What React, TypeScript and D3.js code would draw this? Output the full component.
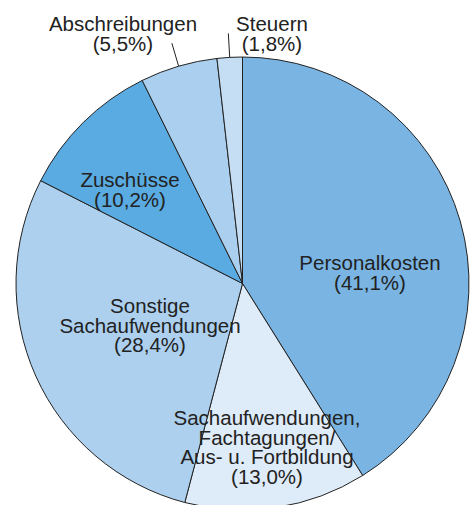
import { useMemo } from 'react';
import * as d3 from 'd3';

// Kostenanteile, im Uhrzeigersinn ab 12 Uhr
const categories = [
  'Personalkosten',
  'Sachaufwendungen, Fachtagungen/ Aus- u. Fortbildung',
  'Sonstige Sachaufwendungen',
  'Zuschüsse',
  'Abschreibungen',
  'Steuern',
];
const shares = [41.1, 13.0, 28.4, 10.2, 5.5, 1.8];
const shareLabels = ['(41,1%)', '(13,0%)', '(28,4%)', '(10,2%)', '(5,5%)', '(1,8%)'];
const labelLines = [
  ['Personalkosten'],
  ['Sachaufwendungen,', 'Fachtagungen/', 'Aus- u. Fortbildung'],
  ['Sonstige', 'Sachaufwendungen'],
  ['Zuschüsse'],
  ['Abschreibungen'],
  ['Steuern'],
];
const colors = ['#79b4e3', '#deebf8', '#acd0ee', '#5aabe1', '#abcfee', '#c6def4'];

// label anchor (centre x, first baseline y) and whether it sits outside with a leader
const labelLayout = [
  { x: 370, y: 270, outside: false },
  { x: 267, y: 425, outside: false },
  { x: 150, y: 313, outside: false },
  { x: 130, y: 187, outside: false },
  { x: 123, y: 31, outside: true },
  { x: 272, y: 31, outside: true },
];

const W = 472;
const H = 505;
const cx = 242.5;
const cy = 283.5;
const R = 226.5;
const lineH = 19.5;

export default function App() {
  const arcs = useMemo(() => {
    const pie = d3.pie<number>().sort(null).value((d) => d);
    return pie(shares);
  }, []);

  const arc = d3.arc<d3.PieArcDatum<number>>().innerRadius(0).outerRadius(R);

  const leader = (a: d3.PieArcDatum<number>) => {
    const m = (a.startAngle + a.endAngle) / 2;
    return {
      x1: Math.sin(m) * R,
      y1: -Math.cos(m) * R,
      x2: Math.sin(m) * (R + 24),
      y2: -Math.cos(m) * (R + 24),
    };
  };

  return (
    <svg
      width={W}
      height={H}
      style={{ position: 'absolute', left: 0, top: 0, display: 'block', background: '#fff' }}
      fontFamily="'Liberation Sans', Arial, sans-serif"
    >
      <g transform={`translate(${cx},${cy})`}>
        {arcs.map((a, i) => (
          <path key={categories[i]} d={arc(a) ?? ''} fill={colors[i]} stroke="#222" strokeWidth={1} strokeLinejoin="round" />
        ))}
        {arcs.map((a, i) => {
          if (!labelLayout[i].outside) return null;
          const l = leader(a);
          return <line key={'l' + i} x1={l.x1} y1={l.y1} x2={l.x2} y2={l.y2} stroke="#222" strokeWidth={1} />;
        })}
      </g>
      {labelLayout.map((p, i) => (
        <text key={'t' + i} x={p.x} y={p.y} textAnchor="middle" fontSize={20.5} fill="#222">
          {labelLines[i].map((s, j) => (
            <tspan key={j} x={p.x} y={p.y + j * lineH}>{s}</tspan>
          ))}
          <tspan x={p.x} y={p.y + labelLines[i].length * lineH}>{shareLabels[i]}</tspan>
        </text>
      ))}
    </svg>
  );
}
